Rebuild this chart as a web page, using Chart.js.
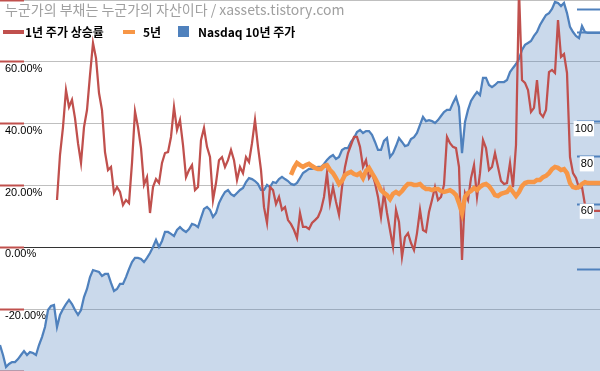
<!DOCTYPE html>
<html lang="ko">
<head>
<meta charset="utf-8">
<title>1년 주가 상승률 / Nasdaq 10년 주가</title>
<script src="https://cdn.jsdelivr.net/npm/chart.js@4"></script>
<style>
  html, body { margin: 0; padding: 0; background: #fff; }
  #wrap { width: 600px; height: 371px; }
</style>
</head>
<body>
<div id="wrap"><canvas id="chart" width="600" height="371"></canvas></div>
<script>
// Weekly points, oldest first. Left axis = % change, right axis = Nasdaq index level
const titleText = '누군가의 부채는 누군가의 자산이다 / xassets.tistory.com';
const seriesNames = ['1년 주가 상승률', '5년', 'Nasdaq 10년 주가'];

// 1-year change (%), starts later than the index
const oneYear = [
  null, null, null, null, null, null, null, null, null, null,
  null, null, null, null, null, null, null, null, null, 15.3,
  29.9, 38.9, 50.9, 45.4, 47.7, 41.8, 33.7, 27.3, 38.9, 44.4,
  55.7, 66.1, 61.2, 49.9, 44.4, 30.8, 25.0, 26.0, 17.6, 19.5,
  17.9, 13.7, 15.3, 14.3, 27.3, 44.0, 38.9, 32.1, 20.2, 22.7,
  11.1, 19.5, 22.1, 20.8, 27.3, 30.5, 30.8, 35.7, 45.4, 38.0,
  41.2, 33.1, 22.7, 25.0, 26.6, 18.5, 19.5, 34.7, 38.6, 32.5,
  29.2, 15.3, 20.8, 28.2, 29.2, 26.0, 28.2, 31.5, 28.2, 21.8,
  26.0, 24.0, 29.2, 27.6, 33.7, 41.2, 32.5, 25.0, 13.0, 7.9,
  19.5, 18.5, 14.0, 16.3, 12.1, 13.0, 8.8, 7.5, 5.6, 3.0,
  11.1, 6.6, 6.6, 5.9, 7.9, 8.8, 9.8, 12.1, 16.3, 24.0,
  14.3, 19.5, 14.7, 10.5, 19.5, 26.0, 30.5, 33.1, 35.7, 35.7,
  32.5, 26.0, 28.2, 22.4, 24.0, 20.8, 16.3, 9.8, 17.6, 11.1,
  5.6, 0.1, 12.1, 8.2, -3.1, 3.3, 4.6, 1.4, -0.9, 4.6,
  12.1, 5.6, 5.0, 11.4, 15.3, 19.5, 15.3, 16.3, 20.2, 35.7,
  33.7, 32.5, 32.1, 26.0, -4.1, 17.6, 15.3, 22.4, 26.6, 16.3,
  24.0, 34.7, 32.1, 25.0, 26.0, 30.5, 26.0, 21.5, 20.5, 20.8,
  27.3, 19.5, 33.1, 83.2, 54.1, 53.2, 50.9, 43.8, 45.1, 54.1,
  43.4, 42.2, 44.4, 56.7, 57.4, 56.4, 73.5, 61.6, 62.5, 56.4,
  29.2, 24.0, 22.4, 19.2, 19.5, 13.7, 12.7, 11.8, 11.8, 11.8,
  11.8
];

// 5-year change (%), only the last part of the range
const fiveYear = [
  null, null, null, null, null, null, null, null, null, null,
  null, null, null, null, null, null, null, null, null, null,
  null, null, null, null, null, null, null, null, null, null,
  null, null, null, null, null, null, null, null, null, null,
  null, null, null, null, null, null, null, null, null, null,
  null, null, null, null, null, null, null, null, null, null,
  null, null, null, null, null, null, null, null, null, null,
  null, null, null, null, null, null, null, null, null, null,
  null, null, null, null, null, null, null, null, null, null,
  null, null, null, null, null, null, null, 23.4, 25.7, 27.3,
  26.6, 26.0, 26.6, 27.0, 26.3, 25.7, 25.3, 25.3, 26.3, 26.6,
  25.0, 24.0, 22.4, 20.5, 21.5, 23.4, 24.0, 24.4, 23.7, 23.4,
  24.0, 22.4, 24.7, 25.7, 24.0, 22.4, 20.5, 18.5, 17.6, 16.9,
  15.6, 17.3, 17.9, 17.3, 18.2, 19.5, 20.5, 20.5, 20.2, 20.2,
  20.5, 19.5, 18.9, 18.9, 18.5, 18.9, 18.9, 18.2, 17.9, 18.2,
  18.5, 17.9, 16.9, 14.3, 11.1, 16.3, 17.6, 18.2, 19.2, 18.5,
  19.5, 20.2, 20.5, 19.8, 18.5, 16.9, 16.6, 17.3, 17.6, 17.9,
  19.2, 17.9, 16.6, 17.9, 19.8, 20.8, 21.1, 21.1, 21.1, 21.8,
  21.8, 22.7, 23.1, 24.0, 25.3, 26.0, 25.7, 25.0, 25.3, 24.0,
  20.8, 19.5, 19.2, 19.5, 20.5, 21.1, 20.8, 20.8, 20.8, 20.8,
  20.8
];

// Nasdaq price, right-hand scale
const nasdaq = [
  -16.7, -21.8, -28.0, -26.4, -25.4, -25.4, -23.9, -21.8, -19.8, -21.8,
  -20.3, -20.8, -21.8, -16.7, -12.6, -7.5, 1.2, 3.3, 3.8, -7.5,
  -1.3, 1.7, 4.3, 6.4, 4.3, 1.2, -1.3, 1.2, 7.9, 12.0,
  18.1, 21.7, 21.2, 20.7, 18.7, 19.7, 19.7, 15.1, 11.0, 12.0,
  14.6, 14.6, 18.1, 22.2, 25.8, 27.9, 27.9, 27.4, 25.8, 27.9,
  30.4, 33.5, 37.1, 33.5, 36.6, 41.2, 41.2, 40.2, 39.1, 42.2,
  43.7, 42.2, 41.2, 42.7, 45.3, 44.8, 43.7, 48.4, 53.0, 54.0,
  52.5, 48.9, 50.9, 56.0, 59.1, 61.7, 62.7, 60.6, 59.6, 61.2,
  62.7, 63.7, 66.8, 68.8, 68.3, 67.3, 65.8, 62.7, 62.7, 65.3,
  64.2, 66.8, 66.3, 68.3, 69.4, 68.3, 67.3, 65.8, 65.3, 66.3,
  68.8, 71.4, 72.4, 73.5, 73.5, 74.0, 74.5, 74.5, 76.0, 78.1,
  79.6, 80.6, 78.6, 79.6, 83.2, 84.2, 84.2, 87.3, 89.3, 92.4,
  93.4, 91.9, 92.9, 92.9, 90.9, 87.3, 83.2, 83.2, 87.8, 89.3,
  79.6, 81.6, 85.2, 89.3, 87.3, 85.2, 85.7, 88.8, 89.8, 91.9,
  96.0, 100.1, 98.0, 98.5, 98.0, 97.0, 98.5, 100.6, 102.6, 103.7,
  103.7, 107.3, 110.3, 105.2, 81.6, 97.5, 103.7, 108.3, 110.8, 112.9,
  111.3, 120.1, 120.1, 116.5, 115.4, 116.5, 118.0, 118.0, 118.0, 119.0,
  123.1, 125.2, 127.2, 129.8, 134.4, 137.0, 138.0, 139.0, 141.6, 143.6,
  147.2, 149.8, 152.3, 153.3, 155.4, 159.0, 158.5, 156.9, 158.5, 153.3,
  146.2, 143.6, 141.6, 140.5, 146.7, 143.6, 143.1, 143.1, 143.1, 143.1,
  143.1
];

const weeks = nasdaq.map((_, i) => i);

// right axis marks as they appear in the picture
const rightTickValues = [154.9, 143.1, 97.7, 79.7, 55.4, 22.1];
const rightTickLabels = ['', '', '100', '80', '60', ''];

const RED = '#C0504D', ORANGE = '#F79646', BLUE = '#4F81BD';

// axes take no room: the plot fills the whole canvas
function flatAxis(s) {
  s.width = 0;
  s.paddingTop = 0;
  s.paddingBottom = 0;
}

// title + legend are drawn over the plot, like the original
const headerPlugin = {
  id: 'header',
  afterDraw(chart) {
    const { ctx } = chart;
    const ds = chart.data.datasets;
    ctx.save();
    ctx.textBaseline = 'middle';
    ctx.textAlign = 'left';
    ctx.font = '14px "Noto Sans CJK KR", sans-serif';
    ctx.fillStyle = '#A0A0A0';
    ctx.fillText(titleText, 5, 10);

    ctx.font = 'bold 12px "Noto Sans CJK KR", sans-serif';
    ctx.fillStyle = ds[0].borderColor;
    ctx.fillRect(3, 30, 21, 4);
    ctx.fillStyle = '#000';
    ctx.fillText(ds[0].label, 25, 32);

    ctx.fillStyle = ds[1].borderColor;
    ctx.fillRect(123, 30, 12, 4);
    ctx.fillStyle = '#000';
    ctx.fillText(ds[1].label, 143, 32);

    ctx.fillStyle = ds[2].borderColor;
    ctx.fillRect(178, 26, 11, 11);
    ctx.fillStyle = '#000';
    ctx.fillText(ds[2].label, 198, 32);
    ctx.restore();
  }
};

new Chart(document.getElementById('chart'), {
  type: 'line',
  data: {
    labels: weeks,
    datasets: [
      {
        label: seriesNames[0],
        data: oneYear,
        yAxisID: 'y',
        borderColor: RED,
        borderWidth: 2.25,
        pointRadius: 0,
        tension: 0,
        fill: false,
        order: 2
      },
      {
        label: seriesNames[1],
        data: fiveYear,
        yAxisID: 'y',
        borderColor: ORANGE,
        borderWidth: 4.5,
        pointRadius: 0,
        tension: 0,
        fill: false,
        order: 1
      },
      {
        label: seriesNames[2],
        data: nasdaq,
        yAxisID: 'y2',
        borderColor: BLUE,
        backgroundColor: 'rgba(79, 129, 189, 0.3)',
        borderWidth: 2.25,
        pointRadius: 0,
        tension: 0,
        fill: 'start',
        order: 3
      }
    ]
  },
  options: {
    responsive: false,
    animation: false,
    layout: { padding: 0, autoPadding: false },
    plugins: {
      legend: { display: false },
      tooltip: { enabled: false }
    },
    scales: {
      x: { display: false },
      y: {
        position: 'left',
        min: -40,
        max: 80,
        afterFit: flatAxis,
        border: { display: false },
        grid: {
          color: c => c.tick && c.tick.value === 0 ? '#333333' : '#BFBFBF',
          lineWidth: 1,
          drawTicks: true,
          tickLength: -24,
          tickColor: RED,
          tickWidth: 2
        },
        ticks: {
          stepSize: 20,
          mirror: true,
          padding: 5,
          labelOffset: 7,
          color: '#000',
          font: { family: '"Liberation Sans", Arial, sans-serif', size: 11 },
          callback: v => (v >= 80 || v <= -40) ? '' : v.toFixed(2) + '%'
        }
      },
      y2: {
        position: 'right',
        min: -30,
        max: 160,
        afterFit: flatAxis,
        afterBuildTicks: s => { s.ticks = rightTickValues.map(v => ({ value: v })); },
        border: { display: false },
        grid: {
          drawOnChartArea: false,
          drawTicks: true,
          tickLength: -23,
          tickColor: BLUE,
          tickWidth: 2
        },
        ticks: {
          mirror: true,
          padding: -7,
          labelOffset: 7,
          z: 1,
          color: '#000',
          font: { family: '"Liberation Sans", Arial, sans-serif', size: 11 },
          callback: (v, i) => rightTickLabels[i],
          showLabelBackdrop: c => rightTickLabels[c.index] !== '',
          backdropColor: '#ffffff',
          backdropPadding: 1
        }
      }
    }
  },
  plugins: [headerPlugin]
});
</script>
</body>
</html>
